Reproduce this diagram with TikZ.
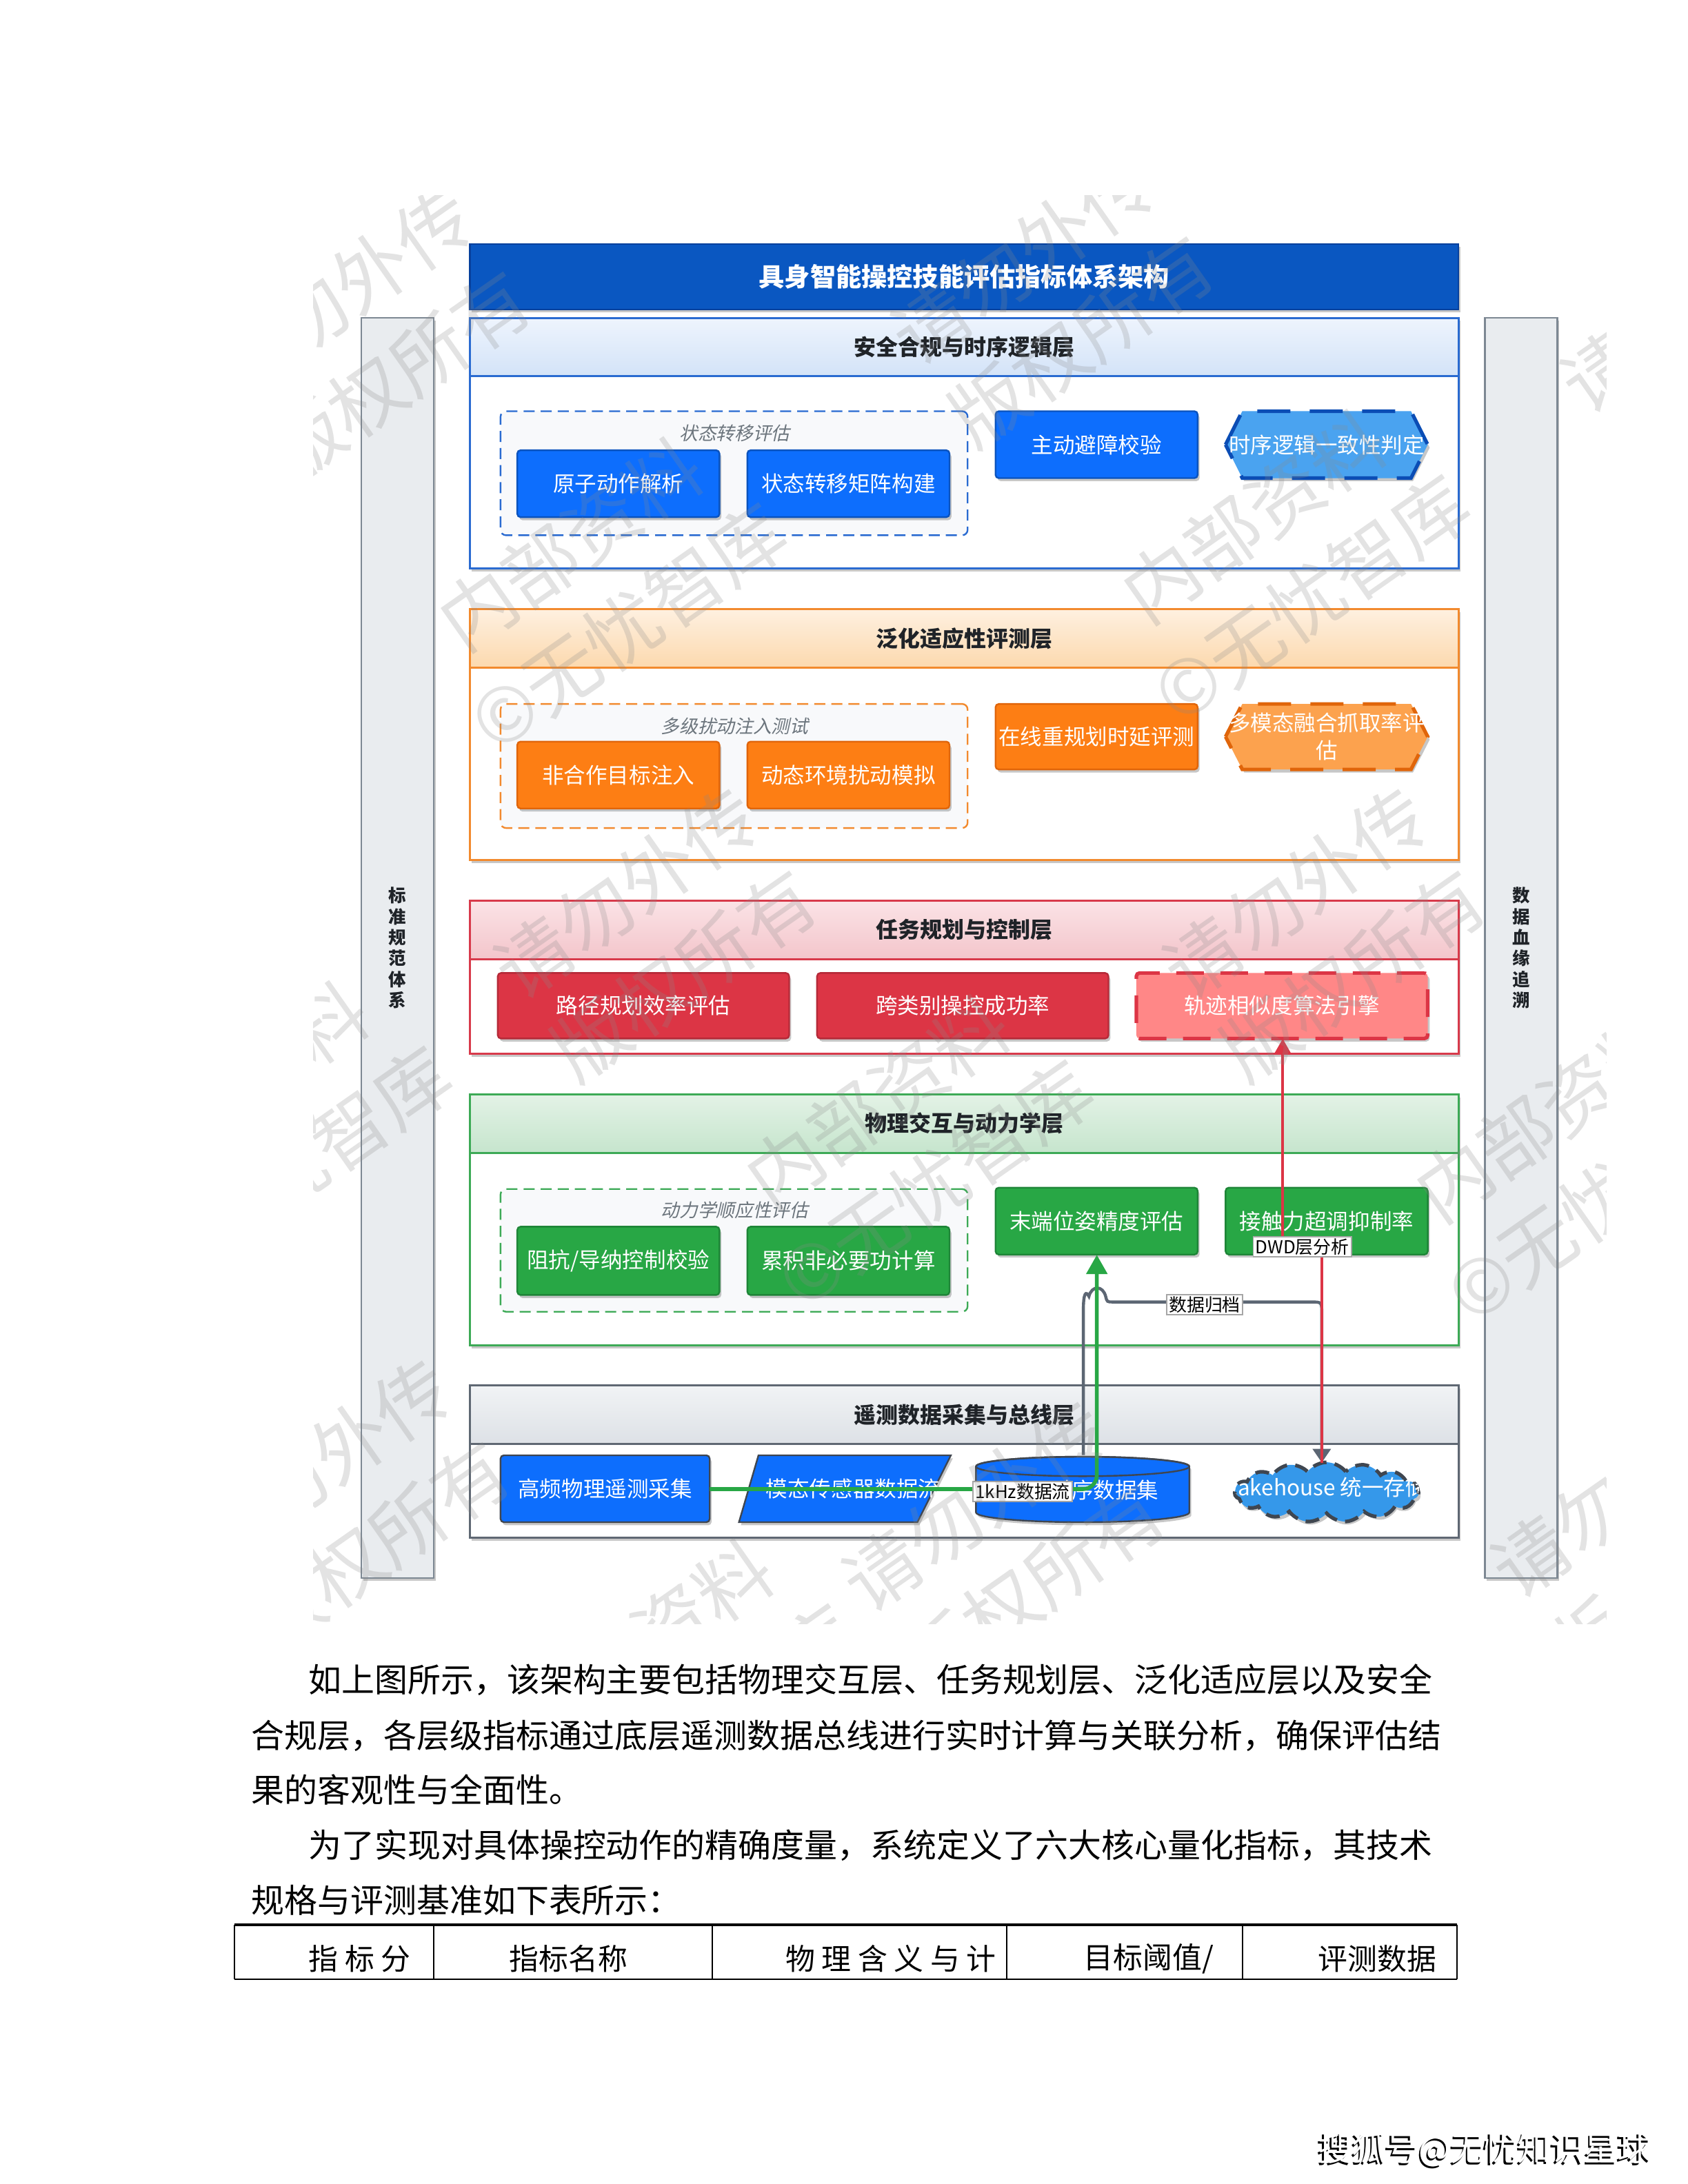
\documentclass[tikz,border=0pt]{standalone}
\usepackage{fontspec}
\setmainfont{Noto Sans CJK SC}
\newfontfamily\cjkit{Noto Sans CJK SC}[FakeSlant=0.22]
\usetikzlibrary{shapes.geometric,shapes.symbols,shadows,arrows.meta,calc}
\definecolor{ttlblue}{HTML}{0A57C1}
\definecolor{ttlborder}{HTML}{07409C}
\definecolor{bprim}{HTML}{0D6EFD}
\definecolor{bprimd}{HTML}{0A53BE}
\definecolor{hexblue}{HTML}{4AA3F0}
\definecolor{hexblued}{HTML}{0B4DB5}
\definecolor{borange}{HTML}{FD7E14}
\definecolor{borangd}{HTML}{E0650A}
\definecolor{hexorange}{HTML}{FCA24E}
\definecolor{bred}{HTML}{DC3545}
\definecolor{bredd}{HTML}{B52A38}
\definecolor{lred}{HTML}{FF8787}
\definecolor{bgreen}{HTML}{28A745}
\definecolor{bgreend}{HTML}{1E8537}
\definecolor{cloudblue}{HTML}{3598EA}
\definecolor{dgray}{HTML}{3F4650}
\definecolor{fgblue}{HTML}{2A6BD1}
\definecolor{fgorange}{HTML}{F28A2E}
\definecolor{fgred}{HTML}{D83A4B}
\definecolor{fggreen}{HTML}{3DAA56}
\definecolor{fggray}{HTML}{5F6873}
\definecolor{sidefill}{HTML}{E9ECEF}
\definecolor{sidedraw}{HTML}{7D8893}
\definecolor{grplabel}{HTML}{6C757D}
\definecolor{grpfill}{HTML}{F8F9FB}
\definecolor{archgray}{HTML}{5C6673}
\definecolor{hdtext}{HTML}{1F2328}
\definecolor{wmgray}{HTML}{8A8A8A}
\definecolor{hbluetop}{HTML}{EEF4FD}
\definecolor{hbluebot}{HTML}{D3E3F8}
\definecolor{horgtop}{HTML}{FEF0E0}
\definecolor{horgbot}{HTML}{FCD9AE}
\definecolor{hredtop}{HTML}{FBE3E6}
\definecolor{hredbot}{HTML}{F3C5CB}
\definecolor{hgrntop}{HTML}{E3F2E6}
\definecolor{hgrnbot}{HTML}{C6E5CD}
\definecolor{hgrytop}{HTML}{F1F3F5}
\definecolor{hgrybot}{HTML}{DDE1E6}

% name, x1, y1, x2, y2, style, text
\newcommand\mkbox[7]{%
  \pgfmathsetmacro\mbw{(#4-#2)*0.5}\pgfmathsetmacro\mbh{(#5-#3)*0.5}%
  \node[#6, minimum width=\mbw pt, minimum height=\mbh pt] (#1) at ({(#2+#4)/2},{(#3+#5)/2}) {#7};}
% name, x1, y1, x2, y2, fill, draw, text
\newcommand\mkhex[8]{%
  \pgfmathsetmacro\hxa{#2+12}\pgfmathsetmacro\hxb{#4-12}\pgfmathsetmacro\hym{(#3+#5)/2}%
  \path[shd, fill=#6, draw=#7, line width=1.3pt, dash pattern=on 12pt off 7pt]
    (#2,\hym) -- (\hxa,#3) -- (\hxb,#3) -- (#4,\hym) -- (\hxb,#5) -- (\hxa,#5) -- cycle;
  \node[cardtext] (#1) at ({(#2+#4)/2},\hym) {#8};}

\tikzset{
  shd/.style={drop shadow={shadow xshift=0.7pt, shadow yshift=-1.1pt, opacity=0.22, fill=black}},
  cardtext/.style={inner sep=0pt, outer sep=0pt, text=white, align=center, font=\fontsize{7.8}{10}\selectfont},
  card/.style={shd, rectangle, rounded corners=1.2pt, inner sep=0pt, outer sep=0pt, text=white,
    font=\fontsize{7.8}{10}\selectfont, align=center, line width=0.6pt},
  bluecard/.style={card, fill=bprim, draw=bprimd},
  orangecard/.style={card, fill=borange, draw=borangd},
  redcard/.style={card, fill=bred, draw=bredd},
  greencard/.style={card, fill=bgreen, draw=bgreend},
  layerframe/.style={shd, fill=white, line width=0.75pt, inner sep=0pt, outer sep=0pt},
  hdr/.style={inner sep=0pt, outer sep=0pt, line width=0.75pt, font=\bfseries\fontsize{7.9}{9}\selectfont, text=hdtext},
  grp/.style={dash pattern=on 4pt off 2.2pt, line width=0.6pt, fill=grpfill, rounded corners=2pt, inner sep=0pt},
  grplbl/.style={font=\cjkit\fontsize{6.6}{8}\selectfont, text=grplabel, inner sep=0pt},
  sidebar/.style={shd, fill=sidefill, draw=sidedraw, line width=0.6pt, align=center, inner sep=0pt,
    font=\bfseries\fontsize{6.3}{7.5}\selectfont, text=hdtext},
  lbl/.style={fill=white, draw=gray!70, line width=0.4pt, inner xsep=0.8pt, inner ysep=0.6pt,
    font=\fontsize{6.4}{7.5}\selectfont, text=black},
  bodytxt/.style={anchor=west, inner sep=0pt, font=\fontsize{11.85}{14}\selectfont, text=black},
  tabtxt/.style={anchor=west, inner sep=0pt, font=\fontsize{10.6}{12}\selectfont, text=black},
  wm/.style={rotate=35, text=wmgray, opacity=0.24, font=\fontsize{27}{36}\selectfont, align=center, inner sep=0pt},
}

\begin{document}
\begin{tikzpicture}[x=0.5pt,y=-0.5pt,scale=1.011,every node/.append style={transform shape}]
\fill[white] (0,0) rectangle (1210.68,1566.77);

% side bars
\mkbox{sideL}{259}{228}{311}{1132}{sidebar}{标\\准\\规\\范\\体\\系}
\mkbox{sideR}{1065}{228}{1117}{1132}{sidebar}{数\\据\\血\\缘\\追\\溯}

% title
\mkbox{title}{337}{175}{1046}{222}{shd, fill=ttlblue, draw=ttlborder, line width=0.6pt, text=white, inner sep=0pt,
  font=\bfseries\fontsize{9.2}{11}\selectfont}{具身智能操控技能评估指标体系架构}

% ---------- layer 1 ----------
\mkbox{L1}{337}{228}{1046}{408}{layerframe, draw=fgblue}{}
\mkbox{L1h}{337}{228}{1046}{270}{hdr, draw=fgblue, top color=hbluetop, bottom color=hbluebot}{安全合规与时序逻辑层}
\mkbox{G1}{359}{295}{694}{384}{grp, draw=fgblue}{}
\node[grplbl] (G1l) at (527,311) {状态转移评估};
\mkbox{b11}{371}{323}{516}{371}{bluecard}{原子动作解析}
\mkbox{b12}{536}{323}{681}{371}{bluecard}{状态转移矩阵构建}
\mkbox{b13}{714}{295}{859}{343}{bluecard}{主动避障校验}
\mkhex{b14}{879}{295}{1024}{343}{hexblue}{hexblued}{时序逻辑一致性判定}

% ---------- layer 2 ----------
\mkbox{L2}{337}{437}{1046}{617}{layerframe, draw=fgorange}{}
\mkbox{L2h}{337}{437}{1046}{479}{hdr, draw=fgorange, top color=horgtop, bottom color=horgbot}{泛化适应性评测层}
\mkbox{G2}{359}{505}{694}{594}{grp, draw=fgorange}{}
\node[grplbl] (G2l) at (527,521) {多级扰动注入测试};
\mkbox{b21}{371}{532}{516}{580}{orangecard}{非合作目标注入}
\mkbox{b22}{536}{532}{681}{580}{orangecard}{动态环境扰动模拟}
\mkbox{b23}{714}{505}{859}{552}{orangecard}{在线重规划时延评测}
\mkhex{b24}{879}{505}{1024}{552}{hexorange}{borangd}{多模态融合抓取率评\\估}

% ---------- layer 3 ----------
\mkbox{L3}{337}{646}{1046}{756}{layerframe, draw=fgred}{}
\mkbox{L3h}{337}{646}{1046}{688}{hdr, draw=fgred, top color=hredtop, bottom color=hredbot}{任务规划与控制层}
\mkbox{b31}{357}{698}{566}{745}{redcard}{路径规划效率评估}
\mkbox{b32}{586}{698}{795}{745}{redcard}{跨类别操控成功率}
\mkbox{traj}{815}{698}{1024}{745}{card, fill=lred, draw=bred, line width=1.3pt, dash pattern=on 10pt off 6pt}{轨迹相似度算法引擎}

% ---------- layer 4 ----------
\mkbox{L4}{337}{785}{1046}{965}{layerframe, draw=fggreen}{}
\mkbox{L4h}{337}{785}{1046}{827}{hdr, draw=fggreen, top color=hgrntop, bottom color=hgrnbot}{物理交互与动力学层}
\mkbox{G4}{359}{853}{694}{941}{grp, draw=fggreen}{}
\node[grplbl] (G4l) at (527,868) {动力学顺应性评估};
\mkbox{b41}{371}{880}{516}{929}{greencard}{阻抗/导纳控制校验}
\mkbox{b42}{536}{880}{681}{929}{greencard}{累积非必要功计算}
\mkbox{em}{714}{852}{859}{900}{greencard}{末端位姿精度评估}
\mkbox{force}{879}{852}{1024}{900}{greencard}{接触力超调抑制率}

% ---------- layer 5 ----------
\mkbox{L5}{337}{994}{1046}{1103}{layerframe, draw=fggray}{}
\mkbox{L5h}{337}{994}{1046}{1036}{hdr, draw=fggray, top color=hgrytop, bottom color=hgrybot}{遥测数据采集与总线层}
\mkbox{hf}{359}{1044}{509}{1092}{card, fill=bprim, draw=dgray}{高频物理遥测采集}
% parallelogram
\path[shd, fill=bprim, draw=dgray, line width=0.6pt] (544,1044) -- (682,1044) -- (658,1092) -- (530,1092) -- cycle;
\node[inner sep=0pt, minimum width=76pt, minimum height=24pt] (para) at (606,1068) {};
\begin{scope}
  \clip (549,1045) -- (674,1045) -- (674,1091) -- (549,1091) -- cycle;
  \node[cardtext] (parat) at (604,1068) {多模态传感器数据流};
\end{scope}
% cylinder
\path[shd, fill=bprim, draw=dgray, line width=0.6pt] (700,1052) -- (700,1085)
  arc[start angle=180, end angle=360, x radius=38.25pt, y radius=3.5pt] -- (853,1052)
  arc[start angle=0, end angle=180, x radius=38.25pt, y radius=3.5pt] -- cycle;
\draw[dgray, line width=0.6pt] (776.5,1052) ellipse [x radius=38.25pt, y radius=3.5pt];
\node[inner sep=0pt, minimum width=76.5pt, minimum height=24pt] (cyl) at (776.5,1068) {};
\node[cardtext] (cylt) at (792,1069) {时序数据集};
% cloud
\node[cloud, cloud puffs=15, cloud puff arc=105, aspect=3, minimum width=66pt, minimum height=21.5pt,
  inner sep=0pt, outer sep=0pt, fill=cloudblue, draw=dgray, line width=1.3pt, dash pattern=on 5pt off 3pt, shd]
  (lake) at (951.5,1070.5) {};
\begin{scope}
  \clip (951.5,1068) ellipse [x radius=33pt, y radius=11pt];
  \node[cardtext] (laket) at (951.5,1067) {Lakehouse 统一存储};
\end{scope}

% ---------- connectors ----------
\draw[archgray, line width=1.1pt, -{Triangle[width=6.5pt,length=5pt]}]
  (cyl.north -| 777,0) -- (777,940) .. controls (777,927) and (779,926) .. (781,930)
  .. controls (783,922) and (791,922) .. (793,930) .. controls (794,934) .. (798,934)
  -- (940,934) .. controls (948,934) .. (948,942) -- (lake.north -| 948,0);
\draw[bgreen, line width=1.4pt, rounded corners=5pt, -{Triangle[width=7.5pt,length=7pt]}]
  (hf.east) -| (em.south);
\node[lbl] (lab1) at (733.5,1070) {1kHz数据流};
\node[lbl] (lab2) at (864,936) {数据归档};
\draw[bred, line width=0.9pt, -{Triangle[width=6pt,length=5.5pt]}]
  (lake.north -| 948,0) -- (948,894) -- (920,894) -- (traj.south -| 920,0);
\node[lbl] (lab3) at (934,894.5) {DWD层分析};

% ---------- watermark ----------
\begin{scope}
  \clip (225,140) rectangle (1152,1165);
  \foreach \wx/\wy [count=\wi] in {265/240, 755/215, 1235/250, 470/670, 950/670, 250/1080, 720/1110, 1185/1100}
    \node[wm] (wmb\wi) at (\wx,\wy) {请勿外传\\版权所有};
  \foreach \wx/\wy [count=\wi] in {430/420, 920/400, 190/810, 650/820, 1130/830, 480/1210}
    \node[wm] (wma\wi) at (\wx,\wy) {内部资料\\©无忧智库};
\end{scope}

% ---------- body text ----------
\node[bodytxt] (p1) at (221,1205) {如上图所示，该架构主要包括物理交互层、任务规划层、泛化适应层以及安全};
\node[bodytxt] (p2) at (180,1245) {合规层，各层级指标通过底层遥测数据总线进行实时计算与关联分析，确保评估结};
\node[bodytxt] (p3) at (180,1284) {果的客观性与全面性。};
\node[bodytxt] (p4) at (221,1324) {为了实现对具体操控动作的精确度量，系统定义了六大核心量化指标，其技术};
\node[bodytxt] (p5) at (180,1363) {规格与评测基准如下表所示：};

% ---------- table ----------
\draw[black, line width=1pt] (168,1381) -- (1045,1381);
\draw[black, line width=0.5pt] (168,1420) -- (1045,1420);
\foreach \tx [count=\ti] in {168,311,511,722,891,1045}
  \draw[black, line width=0.5pt] (\tx,1381) -- (\tx,1420);
\node[tabtxt] (t1) at (221,1405) {指 标 分};
\node[tabtxt] (t2) at (365,1405) {指标名称};
\node[tabtxt] (t3) at (563,1405) {物 理 含 义 与 计};
\node[tabtxt] (t4) at (777,1405) {目标阈值/};
\node[tabtxt] (t5) at (945,1405) {评测数据};

% ---------- signature ----------
\node[anchor=west, inner sep=0pt, font=\fontsize{12}{14}\selectfont, text=black] (sohuS) at (944,1543.5) {搜狐号@无忧知识星球};
\node[anchor=west, inner sep=0pt, font=\fontsize{12}{14}\selectfont, text=white] (sohu) at (945.2,1542) {搜狐号@无忧知识星球};

\pgfresetboundingbox
\useasboundingbox (0,0) rectangle (1210.68,1566.77);
\end{tikzpicture}
\end{document}
